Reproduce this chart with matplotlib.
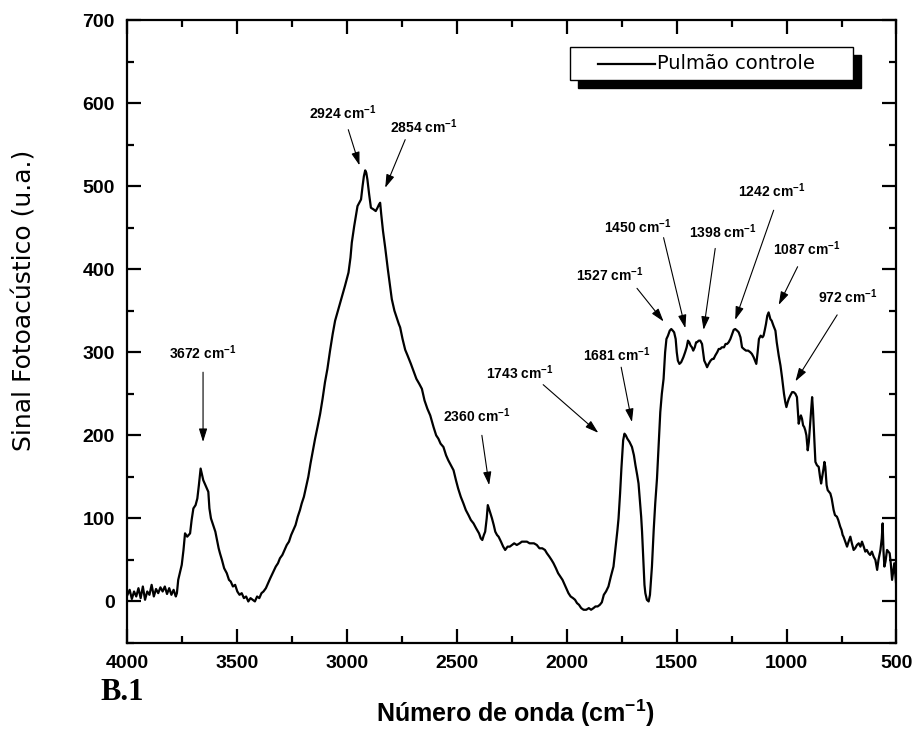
import matplotlib
matplotlib.use("Agg")
import matplotlib.pyplot as plt
from matplotlib.ticker import MultipleLocator
from matplotlib.patches import Rectangle
from matplotlib.lines import Line2D

plt.rcParams["font.family"] = ["Liberation Sans", "DejaVu Sans"]
plt.rcParams["mathtext.fontset"] = "custom"
plt.rcParams["mathtext.rm"] = "Liberation Sans"
plt.rcParams["mathtext.bf"] = "Liberation Sans:bold"

# wavenumber (cm-1) and photoacoustic signal
wavenumber = [
    4000, 3990, 3980, 3970, 3960, 3950, 3940, 3930, 3920, 3910, 3900, 3890, 3880, 3870,
    3860, 3850, 3840, 3830, 3820, 3810, 3800, 3790, 3780, 3775,
    3769, 3760, 3753, 3745, 3738, 3728, 3715, 3708, 3700, 3690, 3682, 3675, 3667, 3660,
    3655, 3645, 3632, 3627, 3620, 3610, 3600, 3594, 3585, 3579, 3570, 3560, 3548, 3538,
    3530, 3520, 3510, 3500, 3490, 3480, 3470, 3460, 3450, 3440, 3430, 3420, 3410, 3400,
    3390, 3381, 3370, 3360, 3350, 3336, 3325, 3315, 3306, 3295, 3285, 3275, 3265, 3255,
    3245, 3235, 3225, 3215, 3207, 3197, 3187, 3177, 3167, 3157, 3146, 3135, 3123, 3112,
    3101, 3090, 3078, 3066, 3055, 3040, 3025, 3010, 2994, 2985, 2979, 2968, 2960, 2953,
    2945, 2937, 2930, 2924, 2918, 2913, 2908, 2900, 2892, 2880, 2870, 2862, 2855, 2850,
    2845, 2837, 2827, 2815, 2805, 2797, 2785, 2775, 2765, 2759, 2748, 2736, 2725, 2710,
    2699, 2685, 2672, 2660, 2648, 2635, 2622, 2607, 2595, 2585, 2575, 2562, 2550, 2540,
    2528, 2516, 2505, 2495, 2483, 2471, 2460, 2448, 2437, 2425, 2413, 2400, 2392, 2385,
    2378, 2372, 2365, 2360, 2355, 2348, 2341, 2333, 2326, 2318, 2311, 2300, 2290, 2281,
    2270, 2260, 2250, 2240, 2228, 2215, 2205, 2195, 2182, 2170, 2160, 2150, 2137, 2125,
    2112, 2100, 2091, 2080, 2070, 2061, 2050, 2040, 2030, 2020, 2010, 2000, 1993, 1983,
    1972, 1963, 1954, 1945, 1935, 1924, 1912, 1900, 1890, 1879, 1870, 1860, 1850, 1841,
    1832, 1822, 1811, 1800, 1788, 1778, 1770, 1765, 1758, 1752, 1749, 1744, 1738, 1732,
    1725, 1715, 1704, 1695, 1688, 1680, 1674, 1668, 1662, 1658, 1652, 1647, 1643, 1636,
    1628, 1622, 1616, 1613, 1605, 1598, 1590, 1582, 1575, 1568, 1560, 1553, 1547, 1540,
    1532, 1525, 1518, 1512, 1505, 1500, 1495, 1488, 1480, 1470, 1462, 1455, 1449, 1443,
    1437, 1431, 1425, 1418, 1412, 1408, 1400, 1393, 1385, 1375, 1368, 1362, 1355, 1346,
    1338, 1332, 1325, 1316, 1309, 1302, 1295, 1285, 1278, 1271, 1264, 1256, 1248, 1241,
    1234, 1225, 1218, 1210, 1203, 1195, 1185, 1175, 1165, 1158, 1150, 1144, 1138, 1132,
    1126, 1118, 1110, 1105, 1100, 1094, 1088, 1082, 1078, 1074, 1068, 1060, 1051, 1045,
    1036, 1028, 1021, 1012, 1006, 1001, 995, 990, 983, 975, 968, 960, 953, 949,
    945, 940, 935, 930, 925, 920, 915, 910, 904, 899, 895, 890, 884, 880,
    877, 873, 869, 862, 854, 848, 843, 838, 832, 828, 824, 818, 813, 807,
    801, 795, 786, 780, 771, 765, 756, 750, 745, 741, 733, 725, 718, 710,
    703, 695, 688, 680, 672, 664, 657, 649, 642, 635, 627, 620, 612, 604,
    596, 588, 582, 576, 573, 567, 563, 559, 555, 550, 543, 537, 531, 526,
    520, 515, 510, 505, 502, 500,
]
signal = [
    8, 14, 3, 12, 6, 16, 4, 18, 2, 12, 8, 20, 6, 15,
    10, 17, 12, 18, 9, 16, 8, 14, 6, 10,
    26, 36, 44, 62, 82, 78, 82, 98, 112, 116, 124, 140, 160, 152,
    146, 140, 132, 112, 100, 92, 84, 76, 64, 58, 50, 40, 34, 26,
    24, 18, 20, 12, 8, 10, 4, 6, 0, 4, 2, 0, 6, 4,
    10, 12, 16, 22, 28, 36, 42, 46, 52, 56, 62, 68, 72, 80,
    86, 92, 102, 110, 118, 126, 138, 150, 166, 180, 196, 210, 226, 244,
    264, 280, 302, 322, 338, 352, 366, 380, 396, 414, 432, 452, 465, 476,
    480, 484, 500, 512, 519, 516, 508, 490, 474, 472, 470, 474, 478, 480,
    466, 446, 426, 400, 380, 364, 350, 342, 334, 330, 316, 303, 296, 286,
    278, 268, 262, 256, 242, 232, 224, 210, 200, 196, 190, 186, 176, 170,
    164, 158, 146, 136, 126, 118, 110, 104, 98, 94, 88, 82, 76, 74,
    80, 84, 100, 116, 112, 106, 100, 92, 84, 80, 78, 72, 66, 62,
    66, 66, 68, 70, 68, 70, 72, 72, 72, 70, 70, 70, 68, 64,
    64, 62, 58, 54, 50, 46, 40, 34, 30, 26, 20, 14, 10, 6,
    4, 2, -2, -4, -8, -10, -10, -8, -10, -8, -6, -6, -4, -1,
    8, 12, 18, 30, 42, 66, 86, 100, 130, 160, 172, 194, 202, 200,
    196, 192, 186, 176, 164, 152, 142, 122, 102, 84, 50, 20, 10, 2,
    0, 8, 30, 42, 86, 118, 148, 190, 228, 250, 268, 300, 316, 320,
    326, 328, 326, 324, 316, 300, 290, 286, 288, 294, 300, 306, 314, 312,
    308, 306, 302, 306, 312, 312, 314, 314, 310, 290, 286, 282, 286, 290,
    292, 292, 296, 300, 304, 304, 306, 306, 310, 310, 312, 316, 322, 327,
    328, 326, 324, 318, 306, 304, 302, 302, 300, 298, 294, 290, 286, 300,
    316, 320, 318, 320, 326, 334, 344, 348, 344, 340, 338, 332, 326, 312,
    296, 284, 270, 250, 240, 234, 240, 244, 248, 252, 252, 250, 246, 230,
    214, 220, 224, 220, 212, 210, 206, 200, 182, 192, 206, 222, 246, 230,
    214, 190, 168, 164, 162, 150, 142, 150, 160, 168, 162, 140, 134, 132,
    130, 124, 110, 104, 102, 98, 90, 86, 80, 78, 72, 66, 72, 78,
    70, 62, 64, 68, 70, 66, 72, 66, 60, 62, 58, 56, 60, 54,
    50, 38, 50, 58, 62, 76, 94, 60, 42, 48, 62, 60, 58, 46,
    26, 36, 46, 32, 22, 24,
]

# peak labels: text position, arrow tail, arrow tip (cm-1, signal)
peak_labels = ["3672", "2924", "2854", "2360", "1743", "1681",
               "1527", "1450", "1398", "1242", "1087", "972"]
label_pos = [(3656, 300), (3018, 588), (2650, 571), (2409, 224), (2213, 276), (1771, 297),
             (1803, 393), (1675, 451), (1288, 445), (1065, 495), (906, 425), (719, 367)]
arrow_tail = [(3656, 276), (2995, 568), (2736, 556), (2387, 200), (2108, 261), (1753, 282),
              (1681, 377), (1560, 438), (1325, 425), (1059, 471), (950, 403), (770, 345)]
arrow_tip = [(3656, 192), (2944, 525), (2827, 498), (2354, 140), (1857, 203), (1704, 216),
             (1560, 337), (1461, 329), (1378, 327), (1234, 339), (1036, 357), (960, 265)]

fig = plt.figure(figsize=(9.19, 7.31), dpi=100)
ax = fig.add_axes([0.1387, 0.1204, 0.8368, 0.8522])

ax.plot(wavenumber, signal, color="black", lw=1.6)

ax.set_xlim(4000, 500)
ax.set_ylim(-50, 700)
ax.xaxis.set_major_locator(MultipleLocator(500))
ax.xaxis.set_minor_locator(MultipleLocator(250))
ax.yaxis.set_major_locator(MultipleLocator(100))
ax.yaxis.set_minor_locator(MultipleLocator(50))
ax.tick_params(which="both", direction="in", top=True, right=True, width=1.6)
ax.tick_params(which="major", length=10, labelsize=14, pad=9)
ax.tick_params(which="minor", length=5)
for lab in ax.get_xticklabels() + ax.get_yticklabels():
    lab.set_fontweight("bold")
for s in ax.spines.values():
    s.set_linewidth(1.6)

ax.set_xlabel(r"Número de onda (cm$^{\mathbf{-1}}$)", fontsize=18, fontweight="bold")
ax.xaxis.set_label_coords(0.504, -0.088)
ax.set_ylabel("Sinal Fotoacústico (u.a.)", fontsize=18, family="DejaVu Sans")
ax.yaxis.set_label_coords(-0.118, 0.55)

for lab, pos, tail, tip in zip(peak_labels, label_pos, arrow_tail, arrow_tip):
    ax.text(pos[0], pos[1], lab + r" cm$^{\mathbf{-1}}$", fontsize=10, fontweight="bold",
            ha="center", va="center")
    ax.annotate("", xy=tip, xytext=tail,
                arrowprops=dict(arrowstyle="-|>,head_length=0.8,head_width=0.25",
                                color="black", lw=0.8, shrinkA=0, shrinkB=0))

# legend box with solid black shadow
ax.add_patch(Rectangle((0.5863, 0.8909), 0.3679, 0.0530, transform=ax.transAxes,
                       facecolor="black", edgecolor="black", zorder=5))
ax.add_patch(Rectangle((0.5759, 0.9037), 0.3679, 0.0530, transform=ax.transAxes,
                       facecolor="white", edgecolor="black", lw=1.0, zorder=6))
ax.add_line(Line2D([0.6123, 0.6864], [0.9302, 0.9302], transform=ax.transAxes,
                   color="black", lw=1.6, zorder=7))
ax.text(0.6890, 0.9302, "Pulmão controle", transform=ax.transAxes, fontsize=14,
        family="DejaVu Sans", va="center", ha="left", zorder=7)

fig.text(0.133, 0.053, "B.1", fontsize=22, fontweight="bold", family="Liberation Serif",
         ha="center", va="center")

fig.savefig("out.png", dpi=100)
